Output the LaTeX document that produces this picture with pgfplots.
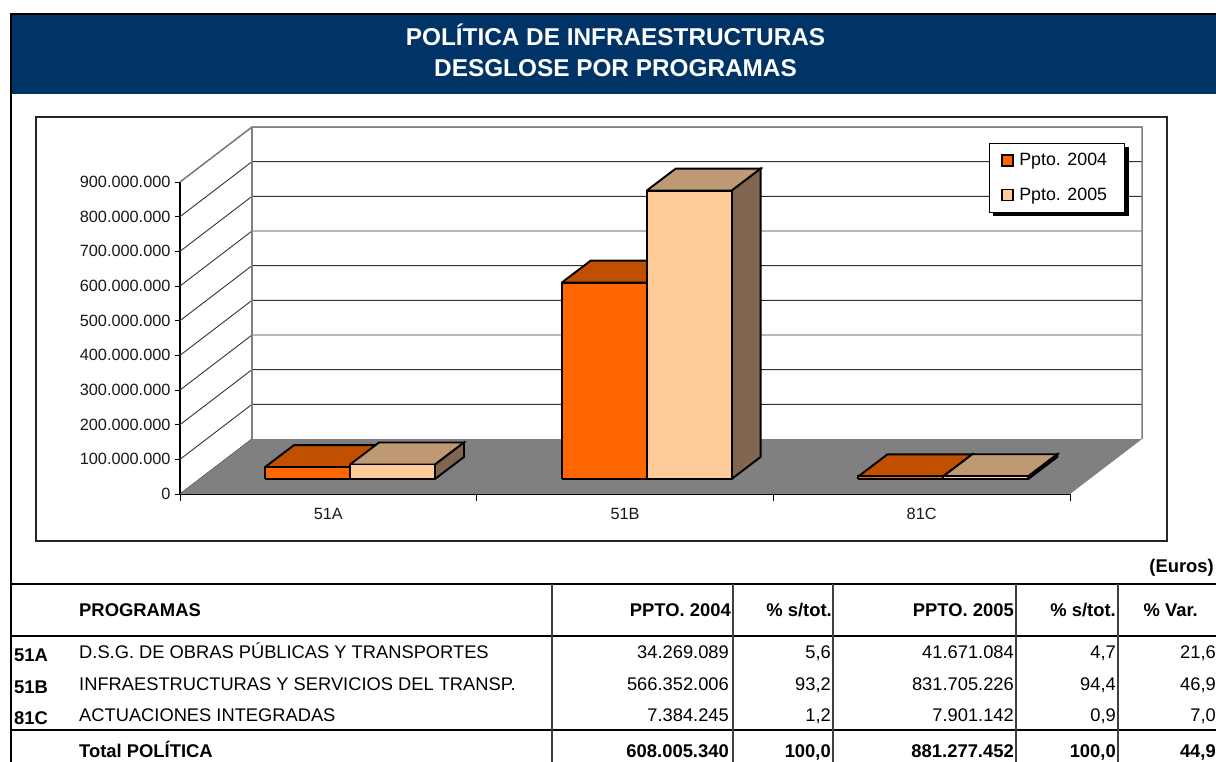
\documentclass[border=0pt]{standalone}
\usepackage{fontspec}
\setmainfont{Liberation Sans}
\usepackage{pgfplots}
\pgfplotsset{compat=1.18}
\definecolor{navy}{HTML}{003366}
\definecolor{wallgray}{HTML}{808080}
\definecolor{gridc}{HTML}{333333}
\definecolor{fA}{HTML}{FF6600}\definecolor{tA}{HTML}{C05000}\definecolor{sA}{HTML}{803300}
\definecolor{fB}{HTML}{FFCC99}\definecolor{tB}{HTML}{BF9973}\definecolor{sB}{HTML}{806650}
\newcommand{\chartfont}{\fontsize{16.3}{19}\selectfont}
\newcommand{\legfont}{\fontsize{17.8}{20}\selectfont}
\newcommand{\tabfont}{\fontsize{18.3}{21}\selectfont}
\newcommand{\boldtab}{\fontsize{18.4}{21}\selectfont\bfseries}
% one box in perspective: left x, right x, value (millions), colours
\newcommand{\threedbar}[6]{%
  \addplot[draw=black,line width=1.9pt,fill=#5] coordinates {(#1,43.3+#3) (#1+0.0978,106.8+#3) (#2+0.0978,106.8+#3) (#2,43.3+#3) (#1,43.3+#3)};
  \addplot[draw=black,line width=1.9pt,fill=#6] coordinates {(#2,43.3) (#2+0.0978,106.8) (#2+0.0978,106.8+#3) (#2,43.3+#3) (#2,43.3)};
  \addplot[draw=black,line width=1.9pt,fill=#4] coordinates {(#1,43.3) (#2,43.3) (#2,43.3+#3) (#1,43.3+#3) (#1,43.3)};
}
\begin{document}
\begin{tikzpicture}
\path[use as bounding box] (0,0) rectangle (1216pt,762pt);
\begin{scope}[x=1pt,y=-1pt,shift={(0pt,762pt)},every node/.style={inner sep=0pt}]
\fill[navy] (11,14) rectangle (1216,94);
\draw[black,line width=2pt] (10.5,762) -- (10.5,14) -- (1216,14);
\draw[black!85,line width=1.3pt,fill=white] (36,117) rectangle (1167,541);
\node[anchor=base,white,font=\fontsize{24.35}{28}\selectfont\bfseries] at (615.5,46) {POLÍTICA DE INFRAESTRUCTURAS};
\node[anchor=base,white,font=\fontsize{24.35}{28}\selectfont\bfseries] at (615.5,77) {DESGLOSE POR PROGRAMAS};
\node[anchor=base east,font=\boldtab] at (1214,573) {(Euros)};
% table rules
\draw[black,line width=2pt] (10,584) -- (1216,584);
\draw[black,line width=2pt] (10,636) -- (1216,636);
\draw[black,line width=2pt] (10,730) -- (1216,730);
\foreach \x in {552,733,833,1016,1118} \draw[black!75,line width=1.2pt] (\x,584) -- (\x,762);
% header
\node[anchor=base west,font=\boldtab] at (79,617) {PROGRAMAS};
\node[anchor=base east,font=\boldtab] at (731,617) {PPTO. 2004};
\node[anchor=base east,font=\boldtab] at (832,617) {\% s/tot.};
\node[anchor=base east,font=\boldtab] at (1014,617) {PPTO. 2005};
\node[anchor=base east,font=\boldtab] at (1116,617) {\% s/tot.};
\node[anchor=base east,font=\boldtab] at (1198,617) {\% Var.};
% rows
\node[anchor=base west,font=\boldtab] at (14,662) {51A};
\node[anchor=base west,font=\boldtab] at (14,694) {51B};
\node[anchor=base west,font=\boldtab] at (14,725) {81C};
\node[anchor=base west,font=\tabfont] at (79,659) {D.S.G. DE OBRAS PÚBLICAS Y TRANSPORTES};
\node[anchor=base west,font=\tabfont] at (79,691) {INFRAESTRUCTURAS Y SERVICIOS DEL TRANSP.};
\node[anchor=base west,font=\tabfont] at (79,722) {ACTUACIONES INTEGRADAS};
\node[anchor=base east,font=\tabfont] at (729,659) {34.269.089};
\node[anchor=base east,font=\tabfont] at (831,659) {5,6};
\node[anchor=base east,font=\tabfont] at (1014,659) {41.671.084};
\node[anchor=base east,font=\tabfont] at (1116,659) {4,7};
\node[anchor=base east,font=\tabfont] at (1216,659) {21,6};
\node[anchor=base east,font=\tabfont] at (729,691) {566.352.006};
\node[anchor=base east,font=\tabfont] at (831,691) {93,2};
\node[anchor=base east,font=\tabfont] at (1014,691) {831.705.226};
\node[anchor=base east,font=\tabfont] at (1116,691) {94,4};
\node[anchor=base east,font=\tabfont] at (1216,691) {46,9};
\node[anchor=base east,font=\tabfont] at (729,722) {7.384.245};
\node[anchor=base east,font=\tabfont] at (831,722) {1,2};
\node[anchor=base east,font=\tabfont] at (1014,722) {7.901.142};
\node[anchor=base east,font=\tabfont] at (1116,722) {0,9};
\node[anchor=base east,font=\tabfont] at (1216,722) {7,0};
\node[anchor=base west,font=\boldtab] at (79,758) {Total POLÍTICA};
\node[anchor=base east,font=\boldtab] at (729,758) {608.005.340};
\node[anchor=base east,font=\boldtab] at (831,758) {100,0};
\node[anchor=base east,font=\boldtab] at (1014,758) {881.277.452};
\node[anchor=base east,font=\boldtab] at (1116,758) {100,0};
\node[anchor=base east,font=\boldtab] at (1216,758) {44,9};
\end{scope}
\begin{axis}[
  at={(180pt,268pt)},anchor=south west,
  scale only axis,width=890pt,height=312pt,
  xmin=0,xmax=3,ymin=0,ymax=900,clip=false,
  axis x line*=bottom,axis y line*=left,
  axis line style={-,black,line width=1.1pt},
  xtick={0.5,1.5,2.5},xticklabels={51A,51B,81C},
  major x tick style={draw=none},
  minor xtick={0,1,2,3},
  minor tick length=7pt,
  minor x tick style={black,line width=0.8pt},
  ytick={0,100,...,900},
  yticklabels={0,100.000.000,200.000.000,300.000.000,400.000.000,500.000.000,600.000.000,700.000.000,800.000.000,900.000.000},
  y tick style={black,line width=0.8pt},
  major tick length=5pt,
  tick align=outside,
  tick label style={font=\chartfont,text=black!90},
  xticklabel style={yshift=-6pt},
  yticklabel style={xshift=-1pt},
  legend style={at={(0.909,1.125)},anchor=north west,draw=black,fill=white,
    line width=0.8pt,inner xsep=12pt,inner ysep=9pt,row sep=19pt,
    nodes={inner xsep=5.5pt,inner ysep=1pt,font=\legfont}},
  legend cell align=left,
  legend image code/.code={\draw[#1] (0pt,-5.5pt) rectangle (11pt,5.5pt);},
]
% walls and grid
\foreach \v in {100,200,...,900}{
  \edef\tmp{\noexpand\draw[gridc,line width=0.9pt] (axis cs:0,\v) -- (axis cs:0.2427,\v+158.6) -- (axis cs:3.2427,\v+158.6);}
  \tmp
}
\draw[gridc,line width=0.9pt] (axis cs:0,0) -- (axis cs:0.2427,158.6);
\draw[wallgray,line width=1.5pt] (axis cs:0,900) -- (axis cs:0.2427,1058.6) -- (axis cs:3.2427,1058.6) -- (axis cs:3.2427,158.6);
\draw[wallgray,line width=1.5pt] (axis cs:0.2427,158.6) -- (axis cs:0.2427,1058.6);
\addplot[fill=wallgray,draw=none,forget plot] coordinates {(0,0) (3,0) (3.2427,158.6) (0.2427,158.6) (0,0)};
\pgfplotsset{every axis plot/.append style={forget plot}}
\threedbar{0.2865}{0.5730}{34.269089}{fA}{tA}{sA}
\threedbar{0.5730}{0.8595}{41.671084}{fB}{tB}{sB}
\threedbar{1.2865}{1.5730}{566.352006}{fA}{tA}{sA}
\threedbar{1.5730}{1.8595}{831.705226}{fB}{tB}{sB}
\threedbar{2.2865}{2.5730}{7.384245}{fA}{tA}{sA}
\threedbar{2.5730}{2.8595}{7.901142}{fB}{tB}{sB}
\fill[black] (rel axis cs:0.9135,1.1122) rectangle (rel axis cs:1.0663,0.8910);
\addlegendimage{draw=black,line width=1.4pt,fill=fA}
\addlegendentry{Ppto. 2004}
\addlegendimage{draw=black,line width=1.4pt,fill=fB}
\addlegendentry{Ppto. 2005}
\end{axis}
\end{tikzpicture}
\end{document}
